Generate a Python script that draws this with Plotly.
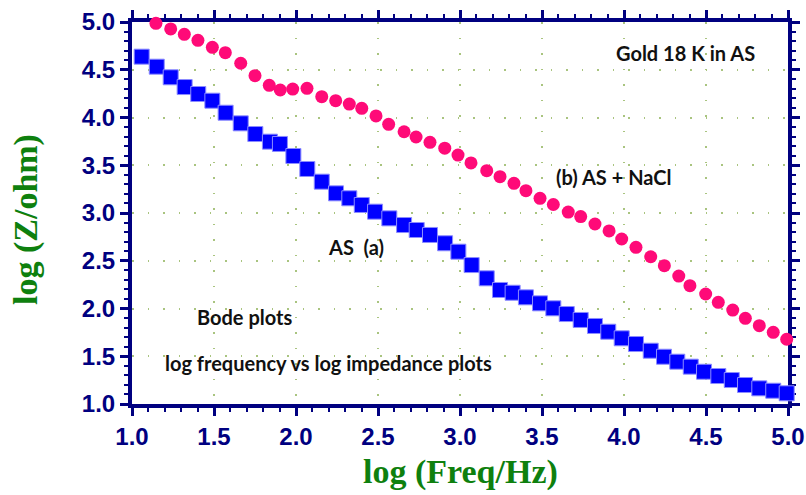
import plotly.graph_objects as go

# Series (a): AS  -- log frequency vs log impedance
as_logf = [1.059, 1.151, 1.236, 1.321, 1.404, 1.490, 1.571, 1.663, 1.752, 1.841,
           1.902, 1.984, 2.069, 2.157, 2.244, 2.325, 2.401, 2.482, 2.569, 2.659,
           2.736, 2.817, 2.909, 2.990, 3.071, 3.163, 3.244, 3.321, 3.402, 3.488,
           3.569, 3.651, 3.736, 3.823, 3.904, 3.986, 4.073, 4.163, 4.244, 4.325,
           4.407, 4.488, 4.575, 4.657, 4.738, 4.825, 4.910, 4.992]
as_logz = [4.637, 4.532, 4.421, 4.319, 4.246, 4.176, 4.050, 3.939, 3.827, 3.747,
           3.723, 3.597, 3.461, 3.328, 3.206, 3.154, 3.084, 3.014, 2.944, 2.874,
           2.822, 2.770, 2.683, 2.595, 2.455, 2.316, 2.194, 2.165, 2.117, 2.054,
           2.002, 1.942, 1.880, 1.817, 1.757, 1.688, 1.628, 1.558, 1.495, 1.443,
           1.391, 1.338, 1.293, 1.251, 1.199, 1.164, 1.139, 1.112]

# Series (b): AS + NaCl
nacl_logf = [1.146, 1.236, 1.319, 1.402, 1.490, 1.569, 1.663, 1.750, 1.837, 1.904,
             1.980, 2.067, 2.157, 2.242, 2.325, 2.401, 2.488, 2.565, 2.659, 2.732,
             2.817, 2.907, 2.988, 3.067, 3.163, 3.244, 3.329, 3.402, 3.488, 3.569,
             3.660, 3.736, 3.823, 3.909, 3.986, 4.073, 4.163, 4.246, 4.334, 4.402,
             4.498, 4.575, 4.663, 4.740, 4.825, 4.910, 4.992]
nacl_logz = [4.986, 4.927, 4.871, 4.808, 4.735, 4.679, 4.568, 4.438, 4.337, 4.288,
             4.298, 4.306, 4.218, 4.176, 4.141, 4.096, 4.016, 3.929, 3.851, 3.796,
             3.740, 3.679, 3.607, 3.524, 3.443, 3.380, 3.311, 3.234, 3.154, 3.089,
             3.010, 2.963, 2.885, 2.812, 2.728, 2.641, 2.542, 2.448, 2.340, 2.239,
             2.152, 2.065, 1.984, 1.897, 1.820, 1.751, 1.678]

# Text labels
label_texts = ["Gold 18 K in AS", "(b) AS + NaCl", "AS  (a)", "Bode plots",
               "log frequency vs log impedance plots"]
label_x = [4.372, 3.936, 2.366, 1.683, 2.201]
label_y = [4.675, 3.377, 2.647, 1.911, 1.432]

x_title = "log (Freq/Hz)"
y_title = "log (Z/ohm)"

NAVY = "#000080"
GRID = "#A9C47F"
GREEN = "#0E800E"

fig = go.Figure()
fig.add_trace(go.Scatter(
    x=as_logf, y=as_logz, mode="markers", name="AS (a)",
    marker=dict(symbol="square", size=15, color="#0000FF",
                line=dict(color="#8C8CFF", width=1)),
    cliponaxis=False, showlegend=False))
fig.add_trace(go.Scatter(
    x=nacl_logf, y=nacl_logz, mode="markers", name="(b) AS + NaCl",
    marker=dict(symbol="circle", size=13, color="#FF0A78",
                line=dict(width=0)),
    cliponaxis=False, showlegend=False))

axis_common = dict(
    range=[1.0, 5.0], dtick=0.5, tick0=1.0, tickformat=".1f",
    showline=True, linecolor=NAVY, linewidth=4, mirror="allticks",
    ticks="outside", ticklen=8, tickwidth=3, tickcolor=NAVY,
    tickfont=dict(family="Liberation Sans, Arial", size=24, color=NAVY, weight="bold"),
    showgrid=True, gridcolor=GRID, gridwidth=1.5, griddash="1.5px,14px",
    zeroline=False, layer="below traces", automargin=False,
    minor=dict(dtick=0.1, ticks="outside", ticklen=4, tickwidth=2,
               tickcolor=NAVY, showgrid=False),
)

fig.update_xaxes(**axis_common)
fig.update_yaxes(**axis_common)

annos = []
for t, x, y in zip(label_texts, label_x, label_y):
    annos.append(dict(x=x, y=y, xref="x", yref="y", text=t, showarrow=False,
                      font=dict(family="Lato, Open Sans, sans-serif", size=20,
                                color="#111111", weight="bold"),
                      xanchor="center", yanchor="middle"))
annos.append(dict(x=460, y=472, xref="paper", yref="paper", text=x_title,
                  showarrow=False,
                  font=dict(family="Liberation Serif, Times New Roman", size=34,
                            color=GREEN, weight="bold"),
                  xanchor="center", yanchor="middle"))
annos.append(dict(x=26, y=220, xref="paper", yref="paper", text=y_title,
                  showarrow=False, textangle=-90,
                  font=dict(family="Liberation Serif, Times New Roman", size=34,
                            color=GREEN, weight="bold"),
                  xanchor="center", yanchor="middle"))

W, H = 806, 495
L, R, T, B = 132, 18, 22, 91
pw, ph = W - L - R, H - T - B
for a in annos[-2:]:
    px, py = a["x"], a["y"]
    a["x"] = (px - L) / pw
    a["y"] = (H - B - py) / ph

fig.update_layout(
    width=W, height=H,
    margin=dict(l=L, r=R, t=T, b=B, autoexpand=False),
    plot_bgcolor="white", paper_bgcolor="white",
    annotations=annos,
    showlegend=False,
)

fig.write_html(
    "out.html",
    config={"displayModeBar": False},
    post_script="document.body.style.margin='0';"
                "document.documentElement.style.overflow='hidden';",
)
